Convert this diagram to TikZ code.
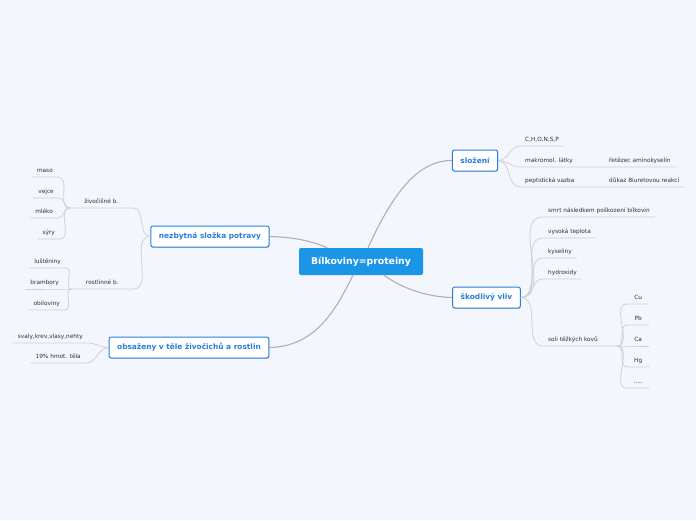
\documentclass[tikz,border=0pt]{standalone}
\usepackage{fontspec}
\setmainfont{DejaVu Sans}
\usetikzlibrary{shadows}

\definecolor{bgpaper}{RGB}{243,246,253}
\definecolor{corefill}{RGB}{27,150,230}
\definecolor{topicblue}{RGB}{40,125,225}
\definecolor{linkgray}{RGB}{176,176,180}
\definecolor{leafgray}{RGB}{208,208,213}
\definecolor{leaftext}{RGB}{50,50,50}

\tikzset{
    core/.style={fill=corefill, text=white, rounded corners=2pt,
        minimum width=124pt, minimum height=27pt,
        font=\bfseries\fontsize{9.3}{11}\selectfont},
    topic/.style={draw=topicblue, fill=white, text=topicblue, line width=1pt,
        rounded corners=2pt, minimum height=21pt, inner xsep=8pt,
        font=\bfseries\fontsize{7.4}{9}\selectfont,
        drop shadow={shadow xshift=0.6pt, shadow yshift=-0.9pt, opacity=0.25}},
    leaf/.style={text=leaftext, inner xsep=5pt, inner ysep=3pt,
        text height=4.4pt, text depth=1.2pt,
        font=\fontsize{5.8}{7}\selectfont},
    link/.style={draw=linkgray, line width=1.1pt},
    leafline/.style={draw=leafgray, line width=0.8pt}
}

\begin{document}
\begin{tikzpicture}[x=1pt, y=-1pt]

% Paper
\fill[bgpaper] (0,0) rectangle (696,520);
\useasboundingbox (0,0) rectangle (696,520);

% Central topic
\node[core] (bilk) at (361,261.5) {Bílkoviny=proteiny};

% Main topics
\node[topic] (slozeni) at (475,160.5) {složení};
\node[topic] (skodlivy) at (486.5,297.5) {škodlivý vliv};
\node[topic] (potrava) at (210,236.5) {nezbytná složka potravy};
\node[topic] (obsazeny) at (189,347.5) {obsaženy v těle živočichů a rostlin};

% Links from the centre
\draw[link] ([xshift=7pt]bilk.north) .. controls (390,200) and (415,160) .. (slozeni.west);
\draw[link] ([xshift=23pt]bilk.south) .. controls (400,287) and (425,297) .. (skodlivy.west);
\draw[link] ([xshift=-34pt]bilk.north) .. controls (310,240) and (290,237) .. (potrava.east);
\draw[link] ([xshift=-8pt]bilk.south) .. controls (340,300) and (320,347) .. (obsazeny.east);

% složení
\node[leaf, anchor=south west] (chon) at (520,146) {C,H,O,N,S,P};
\node[leaf, anchor=south west] (makro) at (520,167) {makromol. látky};
\node[leaf, anchor=south west] (pept) at (520,187) {peptidická vazba};
\node[leaf, anchor=south west] (retez) at (604,167) {řetězec aminokyselin};
\node[leaf, anchor=south west] (dukaz) at (604,187) {důkaz Biuretovou reakcí};
\draw[leafline] (slozeni.east) to[out=0, in=180] (chon.south west) -- (chon.south east);
\draw[leafline] (slozeni.east) to[out=0, in=180] (makro.south west) -- (makro.south east)
    -- (retez.south west) -- (retez.south east);
\draw[leafline] (slozeni.east) to[out=0, in=180] (pept.south west) -- (pept.south east)
    -- (dukaz.south west) -- (dukaz.south east);

% škodlivý vliv
\node[leaf, anchor=south west] (smrt) at (543,217) {smrt následkem poškození bílkovin};
\node[leaf, anchor=south west] (teplota) at (543,238) {vysoká teplota};
\node[leaf, anchor=south west] (kyseliny) at (543,258) {kyseliny};
\node[leaf, anchor=south west] (hydroxidy) at (543,279) {hydroxidy};
\node[leaf, anchor=south west] (soli) at (543,346) {soli těžkých kovů};
\coordinate (kovy) at (617,346);
\draw[leafline] (skodlivy.east) to[out=0, in=180] (smrt.south west) -- (smrt.south east);
\draw[leafline] (skodlivy.east) to[out=0, in=180] (teplota.south west) -- (teplota.south east);
\draw[leafline] (skodlivy.east) to[out=0, in=180] (kyseliny.south west) -- (kyseliny.south east);
\draw[leafline] (skodlivy.east) to[out=0, in=180] (hydroxidy.south west) -- (hydroxidy.south east);
\draw[leafline] (skodlivy.east) to[out=0, in=180] (soli.south west) -- (soli.south east) -- (kovy);

% soli těžkých kovů
\node[leaf, anchor=south west, minimum width=22pt] (cu) at (627,304) {Cu};
\node[leaf, anchor=south west, minimum width=22pt] (pb) at (627,325) {Pb};
\node[leaf, anchor=south west, minimum width=22pt] (ca) at (627,346) {Ca};
\node[leaf, anchor=south west, minimum width=22pt] (hg) at (627,367) {Hg};
\node[leaf, anchor=south west, minimum width=22pt] (dalsi) at (627,388) {.....};
\draw[leafline] (kovy) to[out=0, in=180] (cu.south west) -- (cu.south east);
\draw[leafline] (kovy) to[out=0, in=180] (pb.south west) -- (pb.south east);
\draw[leafline] (kovy) to[out=0, in=180] (ca.south west) -- (ca.south east);
\draw[leafline] (kovy) to[out=0, in=180] (hg.south west) -- (hg.south east);
\draw[leafline] (kovy) to[out=0, in=180] (dalsi.south west) -- (dalsi.south east);

% nezbytná složka potravy
\node[leaf, anchor=south east, minimum width=63pt] (zivo) at (133,208) {živočišné b.};
\node[leaf, anchor=south east, minimum width=61pt] (rost) at (133,289) {rostlinné b.};
\draw[leafline] (potrava.west) to[out=180, in=0] (zivo.south east) -- (zivo.south west);
\draw[leafline] (potrava.west) to[out=180, in=0] (rost.south east) -- (rost.south west);

\node[leaf, anchor=south east] (maso) at (58,177) {maso};
\node[leaf, anchor=south east] (vejce) at (59,198) {vejce};
\node[leaf, anchor=south east] (mleko) at (58,218) {mléko};
\node[leaf, anchor=south east] (syry) at (60,239) {sýry};
\draw[leafline] (zivo.south west) to[out=180, in=0] (maso.south east) -- (maso.south west);
\draw[leafline] (zivo.south west) to[out=180, in=0] (vejce.south east) -- (vejce.south west);
\draw[leafline] (zivo.south west) to[out=180, in=0] (mleko.south east) -- (mleko.south west);
\draw[leafline] (zivo.south west) to[out=180, in=0] (syry.south east) -- (syry.south west);

\node[leaf, anchor=south east] (lusteniny) at (66,268) {luštěniny};
\node[leaf, anchor=south east] (brambory) at (64,289) {brambory};
\node[leaf, anchor=south east] (obiloviny) at (65,310) {obiloviny};
\draw[leafline] (rost.south west) to[out=180, in=0] (lusteniny.south east) -- (lusteniny.south west);
\draw[leafline] (rost.south west) -- (brambory.south east) -- (brambory.south west);
\draw[leafline] (rost.south west) to[out=180, in=0] (obiloviny.south east) -- (obiloviny.south west);

% obsaženy v těle
\node[leaf, anchor=south east] (svaly) at (88,343) {svaly,krev,vlasy,nehty};
\node[leaf, anchor=south east] (hmot) at (86,363) {19\% hmot. těla};
\draw[leafline] (obsazeny.west) to[out=180, in=0] (svaly.south east) -- (svaly.south west);
\draw[leafline] (obsazeny.west) to[out=180, in=0] (hmot.south east) -- (hmot.south west);

\end{tikzpicture}
\end{document}
